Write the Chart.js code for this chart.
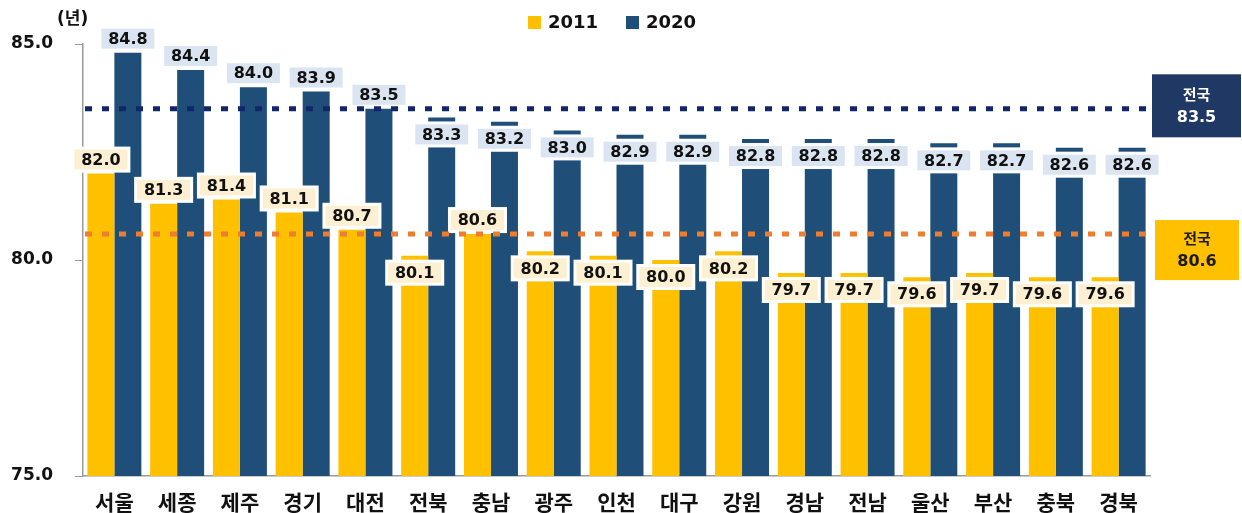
<!DOCTYPE html>
<html lang="ko">
<head>
<meta charset="utf-8">
<title>시도별 기대수명 (2011, 2020)</title>
<script src="https://cdn.jsdelivr.net/npm/chart.js@4"></script>
<style>
  html, body { margin: 0; padding: 0; background: #ffffff; }
  #wrap { width: 1242px; height: 513px; position: relative; }
</style>
</head>
<body>
<div id="wrap"><canvas id="chart" width="1242" height="513"></canvas></div>
<script>
// 시도별 기대수명 (단위: 년)
const regions = ['서울','세종','제주','경기','대전','전북','충남','광주','인천','대구','강원','경남','전남','울산','부산','충북','경북'];
const years = ['2011', '2020'];
const life2011 = [82.0, 81.3, 81.4, 81.1, 80.7, 80.1, 80.6, 80.2, 80.1, 80.0, 80.2, 79.7, 79.7, 79.6, 79.7, 79.6, 79.6];
const life2020 = [84.8, 84.4, 84.0, 83.9, 83.5, 83.3, 83.2, 83.0, 82.9, 82.9, 82.8, 82.8, 82.8, 82.7, 82.7, 82.6, 82.6];
const national = [80.6, 83.5];          // 전국 평균: 2011, 2020
const yTicks = [75, 80, 85];
const unitLabel = '(년)';
const nationalLabel = '전국';

const GOLD = '#ffc000';
const NAVY = '#1f4e79';
const NUM_FONT = 'bold 16px "DejaVu Sans", "Noto Sans CJK KR", sans-serif';

// 값 라벨, 전국 평균 점선, 범례, 전국 박스
const overlay = {
  id: 'overlay',
  afterDatasetsDraw(chart) {
    const ctx = chart.ctx;
    const y = chart.scales.y;
    const area = chart.chartArea;
    const boxFill = ['#fdf0d2', '#dbe5f1'];

    // 값 라벨: 전국 평균 이상이면 막대 위, 미만이면 막대 윗부분 안쪽
    ctx.save();
    ctx.font = NUM_FONT;
    ctx.textAlign = 'center';
    ctx.textBaseline = 'middle';
    chart.data.datasets.forEach((ds, di) => {
      const meta = chart.getDatasetMeta(di);
      meta.data.forEach((bar, i) => {
        const v = ds.data[i];
        const top = bar.y;
        const cy = v >= national[di] ? top - 14 : top + 17;
        const w = 53, h = 20;
        ctx.fillStyle = '#ffffff';
        ctx.fillRect(bar.x - w / 2 - 3, cy - h / 2 - 3, w + 6, h + 6);
        ctx.fillStyle = boxFill[di];
        ctx.fillRect(bar.x - w / 2, cy - h / 2, w, h);
        ctx.fillStyle = '#111111';
        ctx.fillText(v.toFixed(1), bar.x, cy + 1);
      });
    });

    // 전국 평균 점선
    const lineColors = ['#ed7d31', '#13266b'];
    national.forEach((nv, di) => {
      const py = y.getPixelForValue(nv);
      ctx.beginPath();
      ctx.setLineDash([7, 10]);
      ctx.lineWidth = 5;
      ctx.strokeStyle = lineColors[di];
      ctx.moveTo(area.left + 2, py);
      ctx.lineTo(area.right - 2, py);
      ctx.stroke();
    });
    ctx.setLineDash([]);

    // 전국 박스 (오른쪽)
    const boxes = [
      { fill: GOLD, text: '#1a1a1a', dy: 16, w: 84, h: 60, dx: 5 },
      { fill: '#1f3864', text: '#ffffff', dy: -3, w: 89, h: 63, dx: 2 }
    ];
    national.forEach((nv, di) => {
      const b = boxes[di];
      const cy = y.getPixelForValue(nv) + b.dy;
      const left = area.right + b.dx;
      ctx.fillStyle = b.fill;
      ctx.fillRect(left, cy - b.h / 2, b.w, b.h);
      ctx.fillStyle = b.text;
      ctx.textAlign = 'center';
      ctx.font = 'bold 15px "Noto Sans CJK KR", sans-serif';
      ctx.fillText(nationalLabel, left + b.w / 2, cy - 12);
      ctx.font = NUM_FONT;
      ctx.fillText(nv.toFixed(1), left + b.w / 2, cy + 12);
    });

    // 범례
    const legendColors = [GOLD, NAVY];
    const legendX = [528, 626];
    ctx.font = 'bold 18px "DejaVu Sans", sans-serif';
    ctx.textAlign = 'left';
    years.forEach((yr, i) => {
      ctx.fillStyle = legendColors[i];
      ctx.fillRect(legendX[i], 16, 13, 13);
      ctx.fillStyle = '#111111';
      ctx.fillText(yr, legendX[i] + 20, 23);
    });

    // 단위
    ctx.font = 'bold 17px "DejaVu Sans", "Noto Sans CJK KR", sans-serif';
    ctx.fillText(unitLabel, 57, 20);
    ctx.restore();
  }
};

new Chart(document.getElementById('chart'), {
  type: 'bar',
  data: {
    labels: regions,
    datasets: [
      { label: years[0], data: life2011, backgroundColor: GOLD },
      { label: years[1], data: life2020, backgroundColor: NAVY }
    ]
  },
  options: {
    responsive: false,
    animation: false,
    devicePixelRatio: 1,
    layout: { padding: { top: 44, right: 92, bottom: 0, left: 0 } },
    datasets: { bar: { categoryPercentage: 0.86, barPercentage: 1.0 } },
    plugins: {
      legend: { display: false },
      tooltip: { enabled: false }
    },
    scales: {
      x: {
        grid: { display: false },
        border: { display: true, color: '#9a9a9a', width: 1.5 },
        ticks: {
          color: '#111111',
          padding: 5,
          maxRotation: 0,
          font: { family: '"Noto Sans CJK KR", sans-serif', size: 21, weight: 'bold' }
        },
        afterFit(scale) { scale.height = 37; }
      },
      y: {
        min: 75,
        max: 85,
        afterBuildTicks(scale) { scale.ticks = yTicks.map(v => ({ value: v })); },
        grid: { display: true, drawOnChartArea: false, drawTicks: true, tickLength: 8, color: '#9a9a9a' },
        border: { display: true, color: '#9a9a9a', width: 1.5 },
        ticks: {
          color: '#111111',
          padding: 22,
          font: { family: '"DejaVu Sans", sans-serif', size: 17, weight: 'bold' },
          callback: v => Number(v).toFixed(1)
        },
        afterFit(scale) { scale.width = 83; }
      }
    }
  },
  plugins: [overlay]
});
</script>
</body>
</html>
